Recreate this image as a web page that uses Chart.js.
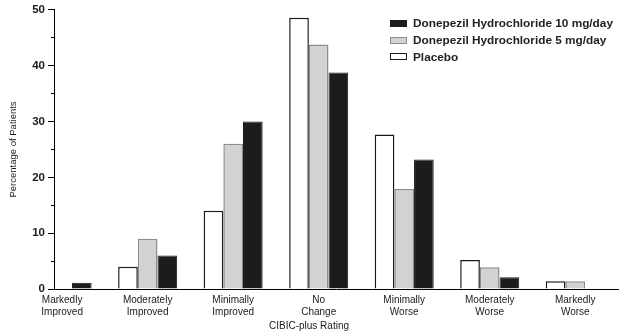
<!DOCTYPE html>
<html>
<head>
<meta charset="utf-8">
<script src="https://cdn.jsdelivr.net/npm/chart.js@4.4.0/dist/chart.umd.min.js"></script>
<style>
html, body { margin: 0; padding: 0; background: #fff; }
#wrap { position: relative; width: 623px; height: 335px; }
#legend { position: absolute; left: 390px; top: 15px; font: bold 11.8px 'Liberation Sans', Arial, sans-serif; color: #222; }
.row { display: flex; align-items: center; height: 16.75px; white-space: nowrap; }
.box { width: 17px; height: 7px; box-sizing: border-box; margin-right: 6px; }
</style>
</head>
<body>
<div id="wrap">
  <canvas id="myChart" width="623" height="335"></canvas>
  <div id="legend"></div>
</div>
<script>
// CIBIC-plus categories (one entry per group, split on two lines)
var categories = [
    ['Markedly', 'Improved'],
    ['Moderately', 'Improved'],
    ['Minimally', 'Improved'],
    ['No', 'Change'],
    ['Minimally', 'Worse'],
    ['Moderately', 'Worse'],
    ['Markedly', 'Worse']
];

var seriesNames = ['Placebo', 'Donepezil Hydrochloride 5 mg/day', 'Donepezil Hydrochloride 10 mg/day'];

// percentage of patients
var placebo = [0, 4, 14, 48.6, 27.7, 5.2, 1.4];
var dose5 = [0, 9, 26, 43.8, 17.9, 3.9, 1.4];
var dose10 = [1.1, 6, 30, 38.8, 23.2, 2.1, 0];

var yMin = 0, yMax = 50, yStep = 5, yLabelEvery = 10;

var fontFamily = "'Liberation Sans', Arial, sans-serif";
Chart.defaults.font.family = fontFamily;
Chart.defaults.color = '#222';

function points(arr) {
    return arr.map(function (v, i) { return { x: i, y: v }; });
}

var ctx = document.getElementById('myChart').getContext('2d');

var graphData = {
    type: 'bar',
    data: {
        datasets: [{
            label: seriesNames[0],
            data: points(placebo),
            backgroundColor: '#ffffff',
            borderColor: '#1a1a1a',
            borderWidth: 1.5
        }, {
            label: seriesNames[1],
            data: points(dose5),
            backgroundColor: '#d2d2d2',
            borderColor: '#8c8c8c',
            borderWidth: 1.5
        }, {
            label: seriesNames[2],
            data: points(dose10),
            backgroundColor: '#1c1c1c',
            borderColor: '#1c1c1c',
            borderWidth: 1
        }]
    },
    options: {
        responsive: false,
        animation: false,
        layout: { padding: { top: 9, right: 5, left: 0, bottom: 0 } },
        datasets: { bar: { categoryPercentage: 0.69, barPercentage: 1 } },
        scales: {
            x: {
                type: 'linear',
                min: -0.095,
                max: 6.5,
                offset: false,
                grid: { display: false, drawTicks: false },
                border: { display: true, color: '#000', width: 1 },
                ticks: {
                    stepSize: 1,
                    includeBounds: false,
                    autoSkip: false,
                    maxRotation: 0,
                    padding: 5,
                    font: { size: 10 },
                    color: '#1a1a1a',
                    callback: function (v) { return categories[v] || ''; }
                },
                afterFit: function (s) { s.height = 31; }
            },
            y: {
                min: yMin,
                max: yMax,
                grid: {
                    drawOnChartArea: false,
                    drawTicks: true,
                    tickLength: 6,
                    color: '#000',
                    // minor ticks only show their last 3px next to the axis
                    tickBorderDash: function (c) { return c.tick && c.tick.value % yLabelEvery === 0 ? [] : [3, 3]; },
                    tickBorderDashOffset: function (c) { return c.tick && c.tick.value % yLabelEvery === 0 ? 0 : 3; }
                },
                border: { color: '#000', width: 1 },
                ticks: {
                    stepSize: yStep,
                    padding: 3,
                    font: { size: 11.5, weight: 'bold' },
                    color: '#1a1a1a',
                    callback: function (v) { return v % yLabelEvery === 0 ? v : ''; }
                },
                title: {
                    display: true,
                    text: 'Percentage of Patients',
                    font: { size: 9.5 },
                    color: '#1a1a1a',
                    padding: { top: 8, bottom: 0 }
                },
                afterFit: function (s) { s.width = 54; }
            }
        },
        plugins: {
            legend: { display: false },
            tooltip: { enabled: false },
            title: {
                display: true,
                position: 'bottom',
                text: 'CIBIC-plus Rating',
                font: { size: 10, weight: 'normal' },
                color: '#1a1a1a',
                padding: { top: 0, bottom: 3 }
            }
        }
    }
};

var myChart = new Chart(ctx, graphData);

// legend drawn as html, reversed like the original
var legendEl = document.getElementById('legend');
graphData.data.datasets.slice().reverse().forEach(function (ds) {
    var row = document.createElement('div');
    row.className = 'row';
    var box = document.createElement('span');
    box.className = 'box';
    box.style.background = ds.backgroundColor;
    box.style.border = '1px solid ' + ds.borderColor;
    var txt = document.createElement('span');
    txt.textContent = ds.label;
    row.appendChild(box);
    row.appendChild(txt);
    legendEl.appendChild(row);
});
</script>
</body>
</html>
